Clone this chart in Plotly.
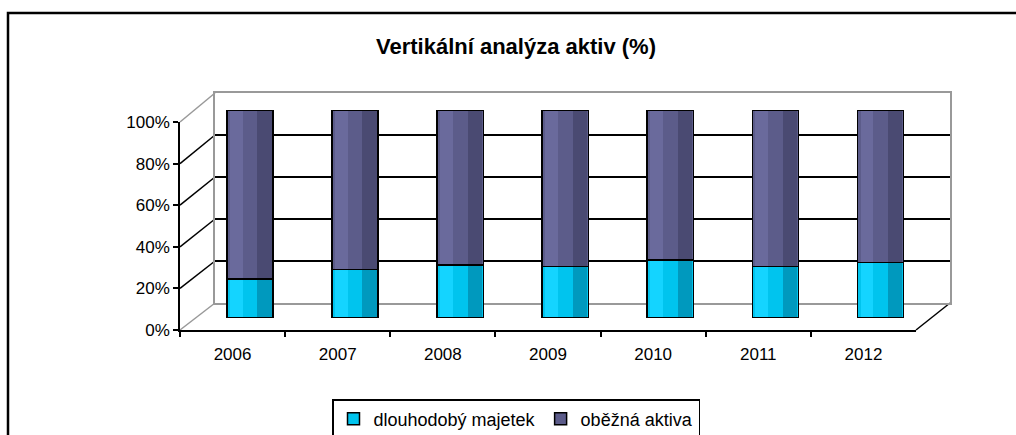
import plotly.graph_objects as go

years = ["2006", "2007", "2008", "2009", "2010", "2011", "2012"]
dlouhodoby = [18.8, 23.3, 25.6, 24.8, 28.0, 24.8, 26.7]
obezna = [81.2, 76.7, 74.4, 75.2, 72.0, 75.2, 73.3]
pct_ticks = [0, 20, 40, 60, 80, 100]
pct_labels = ["0%", "20%", "40%", "60%", "80%", "100%"]

W, H = 1016, 435
FONT = "Liberation Sans, Arial, sans-serif"

def px_x(p):
    return p / W

def px_y(p):
    return 1 - p / H

# domains (pixel based)
front_x = [px_x(180), px_x(916)]
front_y = [px_y(330), px_y(122)]
back_x = [px_x(215), px_x(950)]
back_y = [px_y(303), px_y(93)]
bar_x = [px_x(197.5), px_x(933)]
bar_y = [px_y(318), px_y(110)]

BW = 0.44
CYAN, CYAN_L, CYAN_D = "#00C4EE", "#14D4FF", "#0099BE"
PURP, PURP_L, PURP_D = "#5C5C8A", "#6A6A9C", "#4A4A72"

fig = go.Figure()

# back wall (subplot 1)
fig.add_trace(go.Scatter(x=years, y=[None] * len(years), xaxis="x", yaxis="y",
                         showlegend=False, hoverinfo="skip", mode="markers"))

# Bars (subplot 2)
fig.add_trace(go.Bar(
    x=years, y=dlouhodoby, name="dlouhodobý majetek",
    marker=dict(color=CYAN, line=dict(color="black", width=1.5)),
    width=BW, xaxis="x2", yaxis="y2"))
fig.add_trace(go.Bar(
    x=years, y=obezna, name="oběžná aktiva",
    marker=dict(color=PURP, line=dict(color="black", width=1.5)),
    width=BW, xaxis="x2", yaxis="y2"))

# cylinder shading stripes (subplots 3 and 4)
for ax, off, wd, cols in [("3", -0.19, 0.12, (CYAN_L, PURP_L)),
                          ("4", 0.07, 0.135, (CYAN_D, PURP_D))]:
    fig.add_trace(go.Bar(x=years, y=dlouhodoby, width=wd, offset=off,
                         marker=dict(color=cols[0], line=dict(width=0)),
                         xaxis="x" + ax, yaxis="y" + ax, showlegend=False, hoverinfo="skip"))
    fig.add_trace(go.Bar(x=years, y=obezna, width=wd, offset=off,
                         marker=dict(color=cols[1], line=dict(width=0)),
                         xaxis="x" + ax, yaxis="y" + ax, showlegend=False, hoverinfo="skip"))

# outlines on top (subplot 5)
for vals in (dlouhodoby, obezna):
    fig.add_trace(go.Bar(x=years, y=vals, width=BW,
                         marker=dict(color="rgba(0,0,0,0)", line=dict(color="black", width=1.5)),
                         xaxis="x5", yaxis="y5", showlegend=False, hoverinfo="skip"))

# front axis categories (subplot 6)
fig.add_trace(go.Scatter(x=years, y=[None] * len(years), xaxis="x6", yaxis="y6",
                         showlegend=False, hoverinfo="skip", mode="markers"))

shapes = []
for v in pct_ticks:
    fy = front_y[0] + v / 100 * (front_y[1] - front_y[0])
    by = back_y[0] + v / 100 * (back_y[1] - back_y[0])
    col = "#999999" if v in (0, 100) else "black"
    shapes.append(dict(type="line", xref="paper", yref="paper",
                       x0=front_x[0], y0=fy, x1=back_x[0], y1=by,
                       line=dict(color=col, width=1.5), layer="below"))
shapes.append(dict(type="line", xref="paper", yref="paper",
                   x0=front_x[1], y0=front_y[0], x1=back_x[1], y1=back_y[0],
                   line=dict(color="black", width=1.5), layer="below"))
shapes.append(dict(type="rect", xref="paper", yref="paper",
                   x0=px_x(8), y0=-0.05, x1=1.05, y1=px_y(13),
                   line=dict(color="black", width=2.5)))

hidden_x = dict(domain=bar_x, range=[-0.5, 6.5], type="category", visible=False,
                automargin=False, fixedrange=True)
hidden_y = dict(domain=bar_y, range=[0, 100], visible=False, automargin=False, fixedrange=True)

fig.update_layout(
    template="none",
    width=W, height=H, autosize=False,
    margin=dict(l=0, r=0, t=0, b=0, pad=0, autoexpand=False),
    paper_bgcolor="white",
    plot_bgcolor="rgba(0,0,0,0)",
    barmode="stack",
    font=dict(family=FONT, size=17, color="black"),
    title=dict(text="<b>Vertikální analýza aktiv (%)</b>", x=px_x(516), y=px_y(46),
               xanchor="center", yanchor="middle",
               font=dict(family=FONT, size=22, color="black")),
    showlegend=True,
    legend=dict(orientation="h", x=px_x(516), xanchor="center", y=px_y(399), yanchor="top",
                bordercolor="black", borderwidth=1.5, bgcolor="white",
                font=dict(family=FONT, size=18, color="black"),
                itemwidth=30, traceorder="normal"),
    shapes=shapes,
    xaxis=dict(domain=back_x, range=[-0.5, 6.5], type="category", automargin=False,
               showticklabels=False, showgrid=False, zeroline=False,
               showline=True, linecolor="#999999", linewidth=1.5, mirror=True, ticks=""),
    yaxis=dict(domain=back_y, range=[0, 100], anchor="x", automargin=False,
               tickvals=[20, 40, 60, 80], showticklabels=False,
               showgrid=True, gridcolor="black", gridwidth=1.5, zeroline=False,
               showline=True, linecolor="#999999", linewidth=1.5, mirror=True, ticks=""),
    xaxis2=dict(hidden_x, anchor="y2"), yaxis2=dict(hidden_y, anchor="x2"),
    xaxis3=dict(hidden_x, anchor="y3"), yaxis3=dict(hidden_y, anchor="x3"),
    xaxis4=dict(hidden_x, anchor="y4"), yaxis4=dict(hidden_y, anchor="x4"),
    xaxis5=dict(hidden_x, anchor="y5"), yaxis5=dict(hidden_y, anchor="x5"),
    xaxis6=dict(domain=front_x, range=[-0.5, 6.5], type="category", anchor="y6",
                automargin=False, ticklabelstandoff=8,
                showgrid=False, zeroline=False, showline=True, linecolor="black", linewidth=1.5,
                ticks="outside", tickson="boundaries", ticklen=5, tickcolor="black", tickwidth=1.5,
                tickfont=dict(family=FONT, size=17, color="black")),
    yaxis6=dict(domain=front_y, range=[0, 100], anchor="x6", automargin=False,
                tickvals=pct_ticks, ticktext=pct_labels,
                showgrid=False, zeroline=False, showline=True, linecolor="black", linewidth=1.5,
                ticks="outside", ticklen=5, tickcolor="black", tickwidth=1.5,
                tickfont=dict(family=FONT, size=17, color="black")),
)

fig.write_html("out.html", config={"displayModeBar": False, "responsive": False},
               post_script="document.body.style.margin='0';document.body.style.overflow='hidden';")
